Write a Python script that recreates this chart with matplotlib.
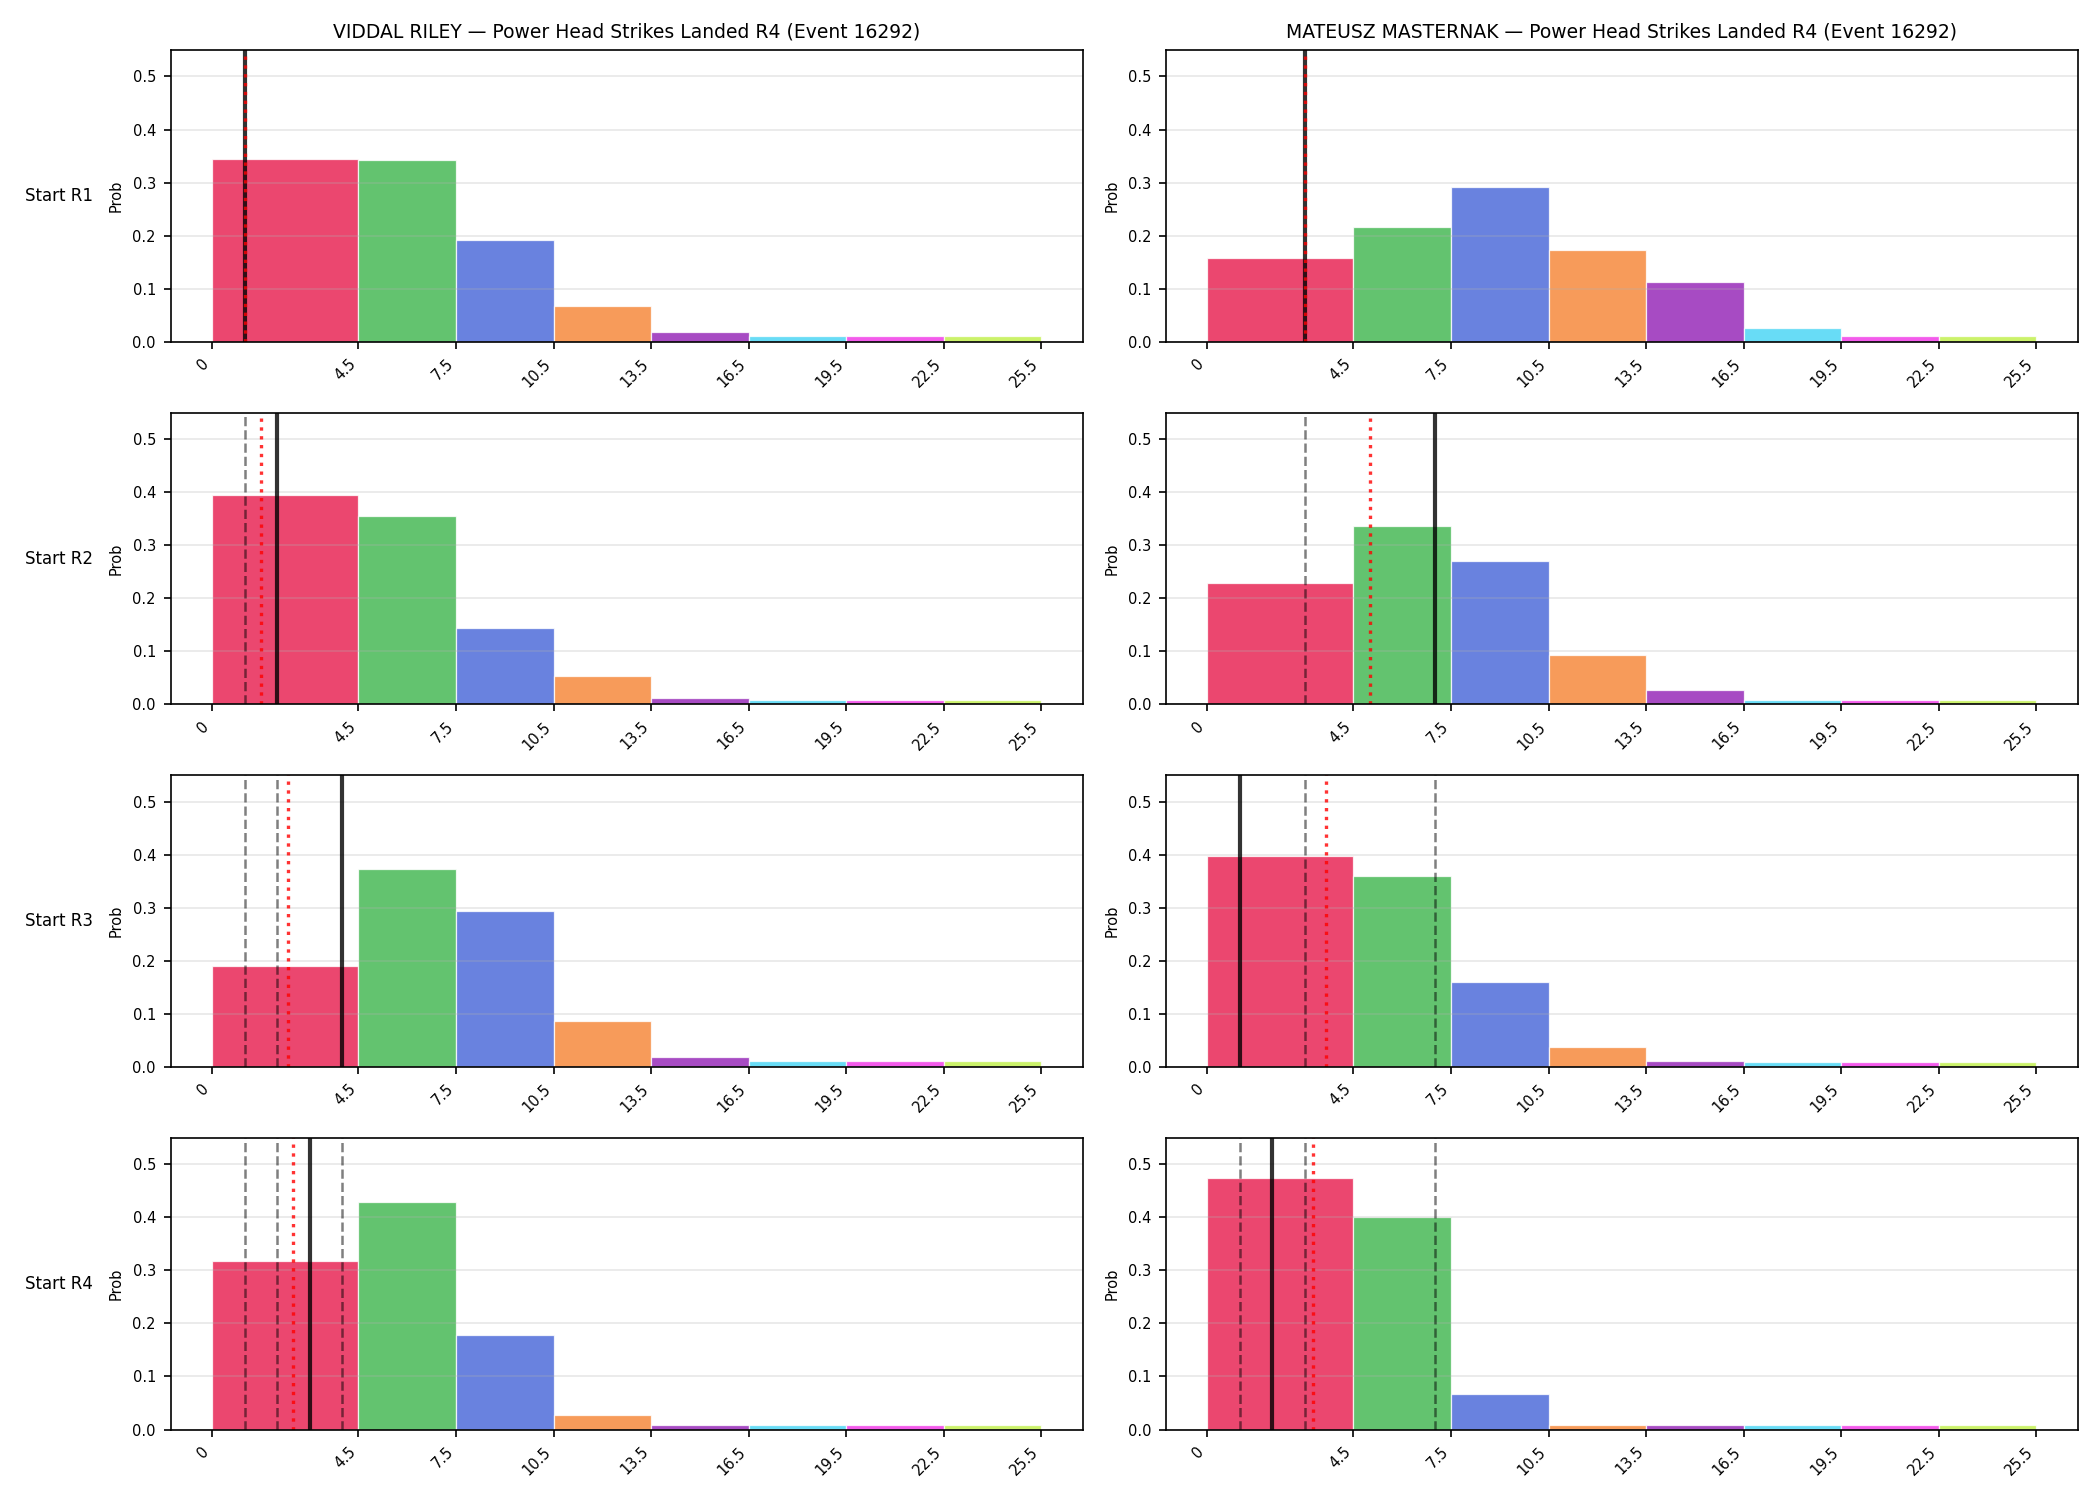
import matplotlib
matplotlib.use("Agg")
import matplotlib.pyplot as plt
import numpy as np

# bins (edges) and tick labels
edges = [0, 4.5, 7.5, 10.5, 13.5, 16.5, 19.5, 22.5, 25.5]
tick_labels = ["0", "4.5", "7.5", "10.5", "13.5", "16.5", "19.5", "22.5", "25.5"]
bin_colors = ["#e6194b", "#3cb44b", "#4363d8", "#f58231",
              "#911eb4", "#42d4f4", "#f032e6", "#bfef45"]

fighters = ["VIDDAL RILEY", "MATEUSZ MASTERNAK"]
row_labels = ["Start R1", "Start R2", "Start R3", "Start R4"]
stat_name = "Power Head Strikes Landed R4"
event_id = 16292

# probabilities per start round (rows) for each fighter
riley_probs = [
    [0.345, 0.342, 0.191, 0.068, 0.019, 0.010, 0.010, 0.010],
    [0.394, 0.355, 0.144, 0.054, 0.012, 0.009, 0.009, 0.009],
    [0.190, 0.373, 0.294, 0.086, 0.019, 0.010, 0.010, 0.010],
    [0.317, 0.428, 0.179, 0.028, 0.009, 0.009, 0.009, 0.009],
]
masternak_probs = [
    [0.157, 0.217, 0.291, 0.172, 0.112, 0.026, 0.010, 0.010],
    [0.228, 0.336, 0.271, 0.094, 0.028, 0.008, 0.008, 0.008],
    [0.398, 0.360, 0.160, 0.037, 0.010, 0.009, 0.009, 0.009],
    [0.475, 0.400, 0.067, 0.008, 0.008, 0.008, 0.008, 0.008],
]

# actual landed per round
riley_actual = [1, 2, 4, 3]
masternak_actual = [3, 7, 1, 2]

all_probs = [riley_probs, masternak_probs]
all_actual = [riley_actual, masternak_actual]

fig = plt.figure(figsize=(14, 10), dpi=150)

# axes positions in figure fractions
col_x = [(0.0812, 0.5157), (0.5551, 0.9894)]
row_top = [0.9667, 0.7249, 0.4833, 0.2415]
ax_h = 0.1945

left_edges = np.array(edges[:-1])
widths = np.diff(edges)

for c in range(2):
    for r in range(4):
        x0, x1 = col_x[c]
        ax = fig.add_axes([x0, row_top[r] - ax_h, x1 - x0, ax_h])
        ax.bar(left_edges, all_probs[c][r], width=widths, align='edge',
               color=bin_colors, alpha=0.8, edgecolor='white', linewidth=0.6)

        vals = all_actual[c][:r + 1]
        # earlier rounds
        for v in vals[:-1]:
            ax.axvline(v, color='black', linestyle='--', linewidth=1.2, alpha=0.5)
        ax.axvline(vals[-1], color='black', linewidth=2, alpha=0.8)
        ax.axvline(np.mean(vals), color='red', linestyle=':', linewidth=1.6, alpha=0.8)

        ax.set_ylim(0, 0.55)
        ax.set_xticks(edges)
        ax.set_xticklabels(tick_labels, rotation=45, ha='right', fontsize=7)
        ax.tick_params(axis='y', labelsize=7)
        ax.set_ylabel('Prob', fontsize=7)
        ax.grid(axis='y', alpha=0.3)

        if r == 0:
            ax.set_title(f'{fighters[c]} — {stat_name} (Event {event_id})', fontsize=9)
        if c == 0:
            fig.text(0.0117, row_top[r] - ax_h / 2, row_labels[r],
                     ha='left', va='center', fontsize=8)

plt.savefig('out.png', dpi=150)
